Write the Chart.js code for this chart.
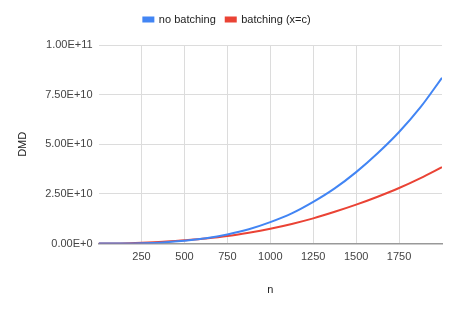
<!DOCTYPE html>
<html>
<head>
<meta charset="utf-8">
<script src="https://cdn.jsdelivr.net/npm/chart.js@4/dist/chart.umd.min.js"></script>
<style>
    html, body { margin: 0; padding: 0; background: #fff; }
    #wrap { width: 458px; height: 309px; }
</style>
</head>
<body>
<div id="wrap"><canvas id="graficoDMD"></canvas></div>
<script>
// valores
const valoresN = [0, 125, 250, 375, 500, 625, 750, 875, 1000, 1125, 1250, 1375, 1500, 1625, 1750, 1875, 2000];
const sinBatching = [0, 0.003e10, 0.02e10, 0.06e10, 0.14e10, 0.27e10, 0.46e10, 0.72e10, 1.08e10, 1.52e10, 2.1e10, 2.78e10, 3.6e10, 4.55e10, 5.62e10, 6.87e10, 8.35e10];
const conBatching = [0, 0.007e10, 0.04e10, 0.09e10, 0.17e10, 0.26e10, 0.38e10, 0.55e10, 0.75e10, 0.99e10, 1.27e10, 1.6e10, 1.96e10, 2.36e10, 2.8e10, 3.3e10, 3.85e10];
const etiquetas = ['no batching', 'batching (x=c)'];

// espacio extra bajo la leyenda
const espacioLeyenda = {
    id: 'espacioLeyenda',
    beforeInit(chart) {
        const fitOriginal = chart.legend.fit;
        chart.legend.fit = function () {
            fitOriginal.bind(chart.legend)();
            this.height += 10;
        };
    }
};

document.addEventListener("DOMContentLoaded", function () {
    const fuente = { family: 'Arial, "Liberation Sans", sans-serif', size: 11 };
    const puntos = serie => valoresN.map((n, i) => ({ x: n, y: serie[i] }));

    new Chart(document.getElementById('graficoDMD'), {
        type: 'line',
        data: {
            datasets: [
                {
                    label: etiquetas[0],
                    data: puntos(sinBatching),
                    borderColor: '#4285f4',
                    backgroundColor: '#4285f4',
                    borderWidth: 2,
                    pointRadius: 0,
                    cubicInterpolationMode: 'monotone'
                },
                {
                    label: etiquetas[1],
                    data: puntos(conBatching),
                    borderColor: '#ea4335',
                    backgroundColor: '#ea4335',
                    borderWidth: 2,
                    pointRadius: 0,
                    cubicInterpolationMode: 'monotone'
                }
            ]
        },
        plugins: [espacioLeyenda],
        options: {
            maintainAspectRatio: false,
            responsive: true,
            animation: false,
            layout: { padding: { left: 12, right: 16, top: 4, bottom: 8 } },
            plugins: {
                legend: {
                    position: 'top',
                    labels: {
                        font: fuente,
                        color: '#222',
                        boxWidth: 10,
                        boxHeight: 4,
                        padding: 10
                    }
                },
                tooltip: { enabled: false }
            },
            scales: {
                x: {
                    type: 'linear',
                    min: 0,
                    max: 2000,
                    ticks: {
                        stepSize: 250,
                        font: fuente,
                        color: '#444',
                        padding: 7,
                        maxRotation: 0,
                        callback: v => (v === 0 || v === 2000) ? '' : v
                    },
                    grid: {
                        drawTicks: false,
                        color: ctx => (ctx.tick && ctx.tick.value % 2000 === 0) ? 'rgba(0,0,0,0)' : '#dcdcdc'
                    },
                    border: { color: '#999', width: 1.5 },
                    title: { display: true, text: 'n', font: fuente, color: '#222', padding: { top: 13 } }
                },
                y: {
                    min: 0,
                    max: 1e11,
                    ticks: {
                        stepSize: 2.5e10,
                        font: fuente,
                        color: '#444',
                        padding: 6,
                        callback: v => v.toExponential(2).toUpperCase()
                    },
                    grid: { drawTicks: false, color: '#dcdcdc' },
                    border: { display: false },
                    title: { display: true, text: 'DMD', font: fuente, color: '#222', padding: { bottom: 10 } }
                }
            }
        }
    });
});
</script>
</body>
</html>
